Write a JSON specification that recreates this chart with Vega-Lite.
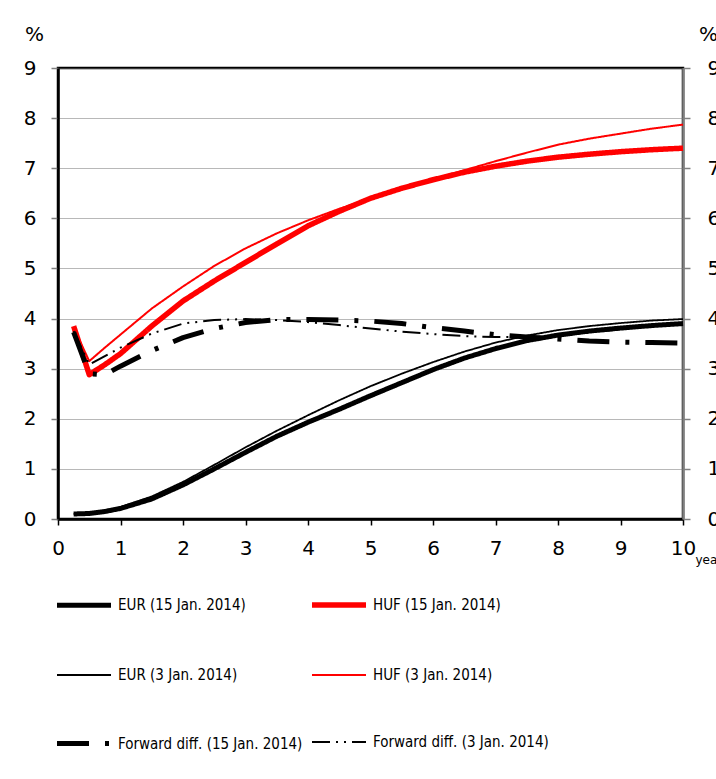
{
  "$schema": "https://vega.github.io/schema/vega-lite/v6.json",
  "width": 625,
  "height": 451,
  "autosize": {"type": "none"},
  "padding": {"left": 58, "top": 68, "right": 33, "bottom": 260},
  "background": "white",
  "config": {
    "view": {"stroke": "black", "strokeWidth": 2.5},
    "font": "DejaVu Sans",
    "axis": {"labelFont": "DejaVu Sans", "titleFont": "DejaVu Sans", "labelColor": "black", "titleColor": "black", "titleFontWeight": "normal"},
    "legend": {"title": null, "orient": "none", "legendX": -4, "legendY": 507, "columns": 2, "columnPadding": -2, "rowPadding": 31, "padding": 0, "symbolType": "stroke", "symbolSize": 2916, "labelFont": "DejaVu Sans Condensed, Liberation Sans", "labelFontSize": 15, "labelColor": "black", "labelOffset": 4, "labelLimit": 400}
  },
  "datasets": {
    "curves": [
      {"s": "EUR (15 Jan. 2014)", "t": 0.25, "v": 0.10}, {"s": "EUR (15 Jan. 2014)", "t": 0.5, "v": 0.11}, {"s": "EUR (15 Jan. 2014)", "t": 0.75, "v": 0.15}, {"s": "EUR (15 Jan. 2014)", "t": 1, "v": 0.21}, {"s": "EUR (15 Jan. 2014)", "t": 1.5, "v": 0.40}, {"s": "EUR (15 Jan. 2014)", "t": 2, "v": 0.68}, {"s": "EUR (15 Jan. 2014)", "t": 2.5, "v": 1.00}, {"s": "EUR (15 Jan. 2014)", "t": 3, "v": 1.33}, {"s": "EUR (15 Jan. 2014)", "t": 3.5, "v": 1.65}, {"s": "EUR (15 Jan. 2014)", "t": 4, "v": 1.93}, {"s": "EUR (15 Jan. 2014)", "t": 4.5, "v": 2.19}, {"s": "EUR (15 Jan. 2014)", "t": 5, "v": 2.46}, {"s": "EUR (15 Jan. 2014)", "t": 5.5, "v": 2.72}, {"s": "EUR (15 Jan. 2014)", "t": 6, "v": 2.98}, {"s": "EUR (15 Jan. 2014)", "t": 6.5, "v": 3.21}, {"s": "EUR (15 Jan. 2014)", "t": 7, "v": 3.40}, {"s": "EUR (15 Jan. 2014)", "t": 7.5, "v": 3.56}, {"s": "EUR (15 Jan. 2014)", "t": 8, "v": 3.67}, {"s": "EUR (15 Jan. 2014)", "t": 8.5, "v": 3.75}, {"s": "EUR (15 Jan. 2014)", "t": 9, "v": 3.81}, {"s": "EUR (15 Jan. 2014)", "t": 9.5, "v": 3.86}, {"s": "EUR (15 Jan. 2014)", "t": 10, "v": 3.90},
      {"s": "HUF (15 Jan. 2014)", "t": 0.25, "v": 3.85}, {"s": "HUF (15 Jan. 2014)", "t": 0.5, "v": 2.88}, {"s": "HUF (15 Jan. 2014)", "t": 0.75, "v": 3.08}, {"s": "HUF (15 Jan. 2014)", "t": 1, "v": 3.30}, {"s": "HUF (15 Jan. 2014)", "t": 1.5, "v": 3.85}, {"s": "HUF (15 Jan. 2014)", "t": 2, "v": 4.35}, {"s": "HUF (15 Jan. 2014)", "t": 2.5, "v": 4.75}, {"s": "HUF (15 Jan. 2014)", "t": 3, "v": 5.12}, {"s": "HUF (15 Jan. 2014)", "t": 3.5, "v": 5.49}, {"s": "HUF (15 Jan. 2014)", "t": 4, "v": 5.85}, {"s": "HUF (15 Jan. 2014)", "t": 4.5, "v": 6.14}, {"s": "HUF (15 Jan. 2014)", "t": 5, "v": 6.40}, {"s": "HUF (15 Jan. 2014)", "t": 5.5, "v": 6.60}, {"s": "HUF (15 Jan. 2014)", "t": 6, "v": 6.77}, {"s": "HUF (15 Jan. 2014)", "t": 6.5, "v": 6.92}, {"s": "HUF (15 Jan. 2014)", "t": 7, "v": 7.04}, {"s": "HUF (15 Jan. 2014)", "t": 7.5, "v": 7.14}, {"s": "HUF (15 Jan. 2014)", "t": 8, "v": 7.22}, {"s": "HUF (15 Jan. 2014)", "t": 8.5, "v": 7.28}, {"s": "HUF (15 Jan. 2014)", "t": 9, "v": 7.33}, {"s": "HUF (15 Jan. 2014)", "t": 9.5, "v": 7.37}, {"s": "HUF (15 Jan. 2014)", "t": 10, "v": 7.40},
      {"s": "EUR (3 Jan. 2014)", "t": 0.25, "v": 0.10}, {"s": "EUR (3 Jan. 2014)", "t": 0.5, "v": 0.12}, {"s": "EUR (3 Jan. 2014)", "t": 0.75, "v": 0.17}, {"s": "EUR (3 Jan. 2014)", "t": 1, "v": 0.24}, {"s": "EUR (3 Jan. 2014)", "t": 1.5, "v": 0.45}, {"s": "EUR (3 Jan. 2014)", "t": 2, "v": 0.74}, {"s": "EUR (3 Jan. 2014)", "t": 2.5, "v": 1.08}, {"s": "EUR (3 Jan. 2014)", "t": 3, "v": 1.43}, {"s": "EUR (3 Jan. 2014)", "t": 3.5, "v": 1.76}, {"s": "EUR (3 Jan. 2014)", "t": 4, "v": 2.07}, {"s": "EUR (3 Jan. 2014)", "t": 4.5, "v": 2.37}, {"s": "EUR (3 Jan. 2014)", "t": 5, "v": 2.65}, {"s": "EUR (3 Jan. 2014)", "t": 5.5, "v": 2.90}, {"s": "EUR (3 Jan. 2014)", "t": 6, "v": 3.13}, {"s": "EUR (3 Jan. 2014)", "t": 6.5, "v": 3.34}, {"s": "EUR (3 Jan. 2014)", "t": 7, "v": 3.52}, {"s": "EUR (3 Jan. 2014)", "t": 7.5, "v": 3.66}, {"s": "EUR (3 Jan. 2014)", "t": 8, "v": 3.77}, {"s": "EUR (3 Jan. 2014)", "t": 8.5, "v": 3.85}, {"s": "EUR (3 Jan. 2014)", "t": 9, "v": 3.91}, {"s": "EUR (3 Jan. 2014)", "t": 9.5, "v": 3.96}, {"s": "EUR (3 Jan. 2014)", "t": 10, "v": 3.99},
      {"s": "HUF (3 Jan. 2014)", "t": 0.25, "v": 3.82}, {"s": "HUF (3 Jan. 2014)", "t": 0.5, "v": 3.15}, {"s": "HUF (3 Jan. 2014)", "t": 0.75, "v": 3.42}, {"s": "HUF (3 Jan. 2014)", "t": 1, "v": 3.68}, {"s": "HUF (3 Jan. 2014)", "t": 1.5, "v": 4.20}, {"s": "HUF (3 Jan. 2014)", "t": 2, "v": 4.64}, {"s": "HUF (3 Jan. 2014)", "t": 2.5, "v": 5.05}, {"s": "HUF (3 Jan. 2014)", "t": 3, "v": 5.40}, {"s": "HUF (3 Jan. 2014)", "t": 3.5, "v": 5.70}, {"s": "HUF (3 Jan. 2014)", "t": 4, "v": 5.96}, {"s": "HUF (3 Jan. 2014)", "t": 4.5, "v": 6.19}, {"s": "HUF (3 Jan. 2014)", "t": 5, "v": 6.40}, {"s": "HUF (3 Jan. 2014)", "t": 5.5, "v": 6.60}, {"s": "HUF (3 Jan. 2014)", "t": 6, "v": 6.78}, {"s": "HUF (3 Jan. 2014)", "t": 6.5, "v": 6.96}, {"s": "HUF (3 Jan. 2014)", "t": 7, "v": 7.14}, {"s": "HUF (3 Jan. 2014)", "t": 7.5, "v": 7.31}, {"s": "HUF (3 Jan. 2014)", "t": 8, "v": 7.47}, {"s": "HUF (3 Jan. 2014)", "t": 8.5, "v": 7.59}, {"s": "HUF (3 Jan. 2014)", "t": 9, "v": 7.69}, {"s": "HUF (3 Jan. 2014)", "t": 9.5, "v": 7.79}, {"s": "HUF (3 Jan. 2014)", "t": 10, "v": 7.87},
      {"s": "Forward diff. (15 Jan. 2014)", "t": 0.25, "v": 3.73}, {"s": "Forward diff. (15 Jan. 2014)", "t": 0.5, "v": 2.90}, {"s": "Forward diff. (15 Jan. 2014)", "t": 0.75, "v": 2.88}, {"s": "Forward diff. (15 Jan. 2014)", "t": 1, "v": 3.05}, {"s": "Forward diff. (15 Jan. 2014)", "t": 1.5, "v": 3.36}, {"s": "Forward diff. (15 Jan. 2014)", "t": 2, "v": 3.62}, {"s": "Forward diff. (15 Jan. 2014)", "t": 2.5, "v": 3.80}, {"s": "Forward diff. (15 Jan. 2014)", "t": 3, "v": 3.92}, {"s": "Forward diff. (15 Jan. 2014)", "t": 3.5, "v": 3.98}, {"s": "Forward diff. (15 Jan. 2014)", "t": 4, "v": 3.98}, {"s": "Forward diff. (15 Jan. 2014)", "t": 4.5, "v": 3.97}, {"s": "Forward diff. (15 Jan. 2014)", "t": 5, "v": 3.95}, {"s": "Forward diff. (15 Jan. 2014)", "t": 5.5, "v": 3.90}, {"s": "Forward diff. (15 Jan. 2014)", "t": 6, "v": 3.82}, {"s": "Forward diff. (15 Jan. 2014)", "t": 6.5, "v": 3.75}, {"s": "Forward diff. (15 Jan. 2014)", "t": 7, "v": 3.68}, {"s": "Forward diff. (15 Jan. 2014)", "t": 7.5, "v": 3.63}, {"s": "Forward diff. (15 Jan. 2014)", "t": 8, "v": 3.59}, {"s": "Forward diff. (15 Jan. 2014)", "t": 8.5, "v": 3.55}, {"s": "Forward diff. (15 Jan. 2014)", "t": 9, "v": 3.53}, {"s": "Forward diff. (15 Jan. 2014)", "t": 9.5, "v": 3.52}, {"s": "Forward diff. (15 Jan. 2014)", "t": 10, "v": 3.51},
      {"s": "Forward diff. (3 Jan. 2014)", "t": 0.25, "v": 3.75}, {"s": "Forward diff. (3 Jan. 2014)", "t": 0.5, "v": 3.08}, {"s": "Forward diff. (3 Jan. 2014)", "t": 0.75, "v": 3.25}, {"s": "Forward diff. (3 Jan. 2014)", "t": 1, "v": 3.42}, {"s": "Forward diff. (3 Jan. 2014)", "t": 1.5, "v": 3.70}, {"s": "Forward diff. (3 Jan. 2014)", "t": 2, "v": 3.90}, {"s": "Forward diff. (3 Jan. 2014)", "t": 2.5, "v": 3.97}, {"s": "Forward diff. (3 Jan. 2014)", "t": 3, "v": 3.99}, {"s": "Forward diff. (3 Jan. 2014)", "t": 3.5, "v": 3.97}, {"s": "Forward diff. (3 Jan. 2014)", "t": 4, "v": 3.93}, {"s": "Forward diff. (3 Jan. 2014)", "t": 4.5, "v": 3.87}, {"s": "Forward diff. (3 Jan. 2014)", "t": 5, "v": 3.80}, {"s": "Forward diff. (3 Jan. 2014)", "t": 5.5, "v": 3.74}, {"s": "Forward diff. (3 Jan. 2014)", "t": 6, "v": 3.69}, {"s": "Forward diff. (3 Jan. 2014)", "t": 6.5, "v": 3.65}, {"s": "Forward diff. (3 Jan. 2014)", "t": 7, "v": 3.63}, {"s": "Forward diff. (3 Jan. 2014)", "t": 7.5, "v": 3.63}, {"s": "Forward diff. (3 Jan. 2014)", "t": 8, "v": 3.66}, {"s": "Forward diff. (3 Jan. 2014)", "t": 8.5, "v": 3.72}, {"s": "Forward diff. (3 Jan. 2014)", "t": 9, "v": 3.79}, {"s": "Forward diff. (3 Jan. 2014)", "t": 9.5, "v": 3.85}, {"s": "Forward diff. (3 Jan. 2014)", "t": 10, "v": 3.90}
    ]
  },
  "data": {"name": "curves"},
  "layer": [
    {
      "mark": {"type": "line", "strokeJoin": "round"},
      "encoding": {
        "x": {"field": "t", "type": "quantitative", "scale": {"domain": [0, 10], "nice": false, "zero": false},
          "axis": {"values": [0, 1, 2, 3, 4, 5, 6, 7, 8, 9, 10], "format": "d", "grid": false, "domainColor": "black", "domainWidth": 2.5, "tickColor": "black", "tickWidth": 1.5, "tickSize": 6, "labelFontSize": 20, "labelPadding": 13, "labelFlush": false, "labelOverlap": false,
            "title": "year", "titleFontSize": 12, "titleAlign": "left", "titleBaseline": "middle", "titleAnchor": "start", "titleX": 637, "titleY": 40}},
        "y": {"field": "v", "type": "quantitative", "scale": {"domain": [0, 9], "nice": false},
          "axis": {"orient": "left", "values": [0, 1, 2, 3, 4, 5, 6, 7, 8, 9], "format": "d", "grid": true, "gridColor": "#707070", "gridDash": [1, 1], "gridWidth": 1, "domainColor": "black", "domainWidth": 2.5, "tickColor": "#808080", "tickWidth": 1.5, "tickSize": 7, "labelFontSize": 20, "labelPadding": 15, "labelFlush": false, "labelOverlap": false,
            "title": "%", "titleAngle": 0, "titleFontSize": 20, "titleAlign": "center", "titleBaseline": "middle", "titleX": -24, "titleY": -34}},
        "color": {"field": "s", "type": "nominal",
          "scale": {"domain": ["EUR (15 Jan. 2014)", "EUR (3 Jan. 2014)", "Forward diff. (15 Jan. 2014)", "HUF (15 Jan. 2014)", "HUF (3 Jan. 2014)", "Forward diff. (3 Jan. 2014)"], "range": ["#000000", "#000000", "#000000", "#ff0000", "#ff0000", "#000000"]}},
        "strokeWidth": {"field": "s", "type": "nominal",
          "scale": {"type": "ordinal", "domain": ["EUR (15 Jan. 2014)", "EUR (3 Jan. 2014)", "Forward diff. (15 Jan. 2014)", "HUF (15 Jan. 2014)", "HUF (3 Jan. 2014)", "Forward diff. (3 Jan. 2014)"], "range": [5, 1.8, 5, 5.5, 2, 2]}},
        "strokeDash": {"field": "s", "type": "nominal",
          "scale": {"type": "ordinal", "domain": ["EUR (15 Jan. 2014)", "EUR (3 Jan. 2014)", "Forward diff. (15 Jan. 2014)", "HUF (15 Jan. 2014)", "HUF (3 Jan. 2014)", "Forward diff. (3 Jan. 2014)"], "range": [[1, 0], [1, 0], [32, 16, 4, 16], [1, 0], [1, 0], [18, 6, 2, 6, 2, 6]]}}
      }
    },
    {
      "mark": {"type": "line", "opacity": 0},
      "encoding": {
        "x": {"field": "t", "type": "quantitative"},
        "y": {"field": "v", "type": "quantitative",
          "axis": {"orient": "right", "values": [0, 1, 2, 3, 4, 5, 6, 7, 8, 9], "format": "d", "grid": false, "domainColor": "#808080", "domainWidth": 2.5, "tickColor": "#808080", "tickWidth": 1.5, "tickSize": 7, "labelFontSize": 20, "labelPadding": 17, "labelFlush": false, "labelOverlap": false,
            "title": "%", "titleAngle": 0, "titleFontSize": 20, "titleAlign": "center", "titleBaseline": "middle", "titleX": 25, "titleY": -34}},
        "detail": {"field": "s", "type": "nominal"}
      }
    }
  ],
  "resolve": {"axis": {"y": "independent"}}
}
